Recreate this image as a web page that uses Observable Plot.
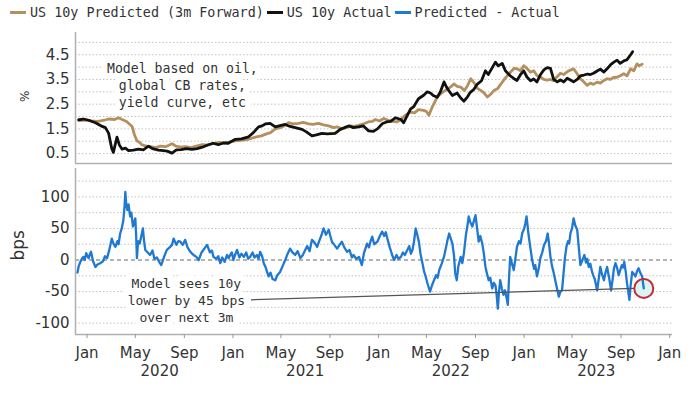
<!DOCTYPE html>
<html><head><meta charset="utf-8">
<script src="https://cdn.jsdelivr.net/npm/d3@7"></script>
<script src="https://cdn.jsdelivr.net/npm/@observablehq/plot@0.6"></script>
<style>
body{margin:0;background:#fff;width:700px;height:394px;overflow:hidden}
#legend{height:25px;display:flex;align-items:center;padding-left:10px;font-family:"DejaVu Sans Mono";font-size:13.4px;color:#333;white-space:pre}
.sw{display:inline-block;width:16px;height:3px;margin-right:4px}
.item{display:flex;align-items:center;margin-right:3px}
svg{display:block}
</style></head><body>
<div id="legend"></div>
<div id="chart"></div>
<script>
// ---------- data ----------
const legendLabels = ["US 10y Predicted (3m Forward)", "US 10y Actual", "Predicted - Actual"];
const legendColors = ["#b5905f", "#111111", "#1f78d1"];

const predictedSeries = [["2019-12-11",1.84],["2019-12-28",1.86],["2020-01-11",1.82],["2020-01-29",1.80],["2020-02-13",1.85],["2020-02-24",1.90],["2020-03-10",1.88],["2020-03-20",1.95],["2020-03-29",1.88],["2020-04-09",1.80],["2020-04-23",1.60],["2020-04-29",1.25],["2020-05-05",1.02],["2020-05-12",0.95],["2020-05-18",0.85],["2020-05-29",0.80],["2020-06-08",0.78],["2020-06-21",0.74],["2020-07-03",0.80],["2020-07-16",0.78],["2020-08-01",0.90],["2020-08-11",0.80],["2020-08-23",0.76],["2020-09-04",0.78],["2020-09-17",0.74],["2020-10-01",0.80],["2020-10-16",0.86],["2020-10-29",0.84],["2020-11-11",0.90],["2020-11-27",0.95],["2020-12-11",0.93],["2020-12-26",0.98],["2021-01-07",1.02],["2021-01-25",1.05],["2021-02-09",1.08],["2021-02-26",1.17],["2021-03-13",1.22],["2021-03-26",1.30],["2021-04-05",1.35],["2021-04-17",1.50],["2021-04-29",1.55],["2021-05-09",1.62],["2021-05-20",1.75],["2021-06-01",1.70],["2021-06-14",1.72],["2021-06-26",1.76],["2021-07-10",1.70],["2021-07-21",1.68],["2021-08-03",1.72],["2021-08-16",1.66],["2021-08-29",1.62],["2021-09-10",1.55],["2021-09-20",1.58],["2021-10-01",1.50],["2021-10-12",1.55],["2021-10-22",1.62],["2021-11-01",1.60],["2021-11-12",1.64],["2021-11-24",1.70],["2021-12-06",1.78],["2021-12-16",1.80],["2021-12-24",1.88],["2022-01-03",1.82],["2022-01-14",1.92],["2022-01-25",1.85],["2022-02-04",1.80],["2022-02-16",1.78],["2022-02-27",1.90],["2022-03-09",2.05],["2022-03-22",2.18],["2022-04-01",2.15],["2022-04-11",2.28],["2022-04-24",2.25],["2022-05-01",2.20],["2022-05-07",2.05],["2022-05-16",2.40],["2022-05-28",2.79],["2022-06-08",2.95],["2022-06-23",3.12],["2022-07-01",3.20],["2022-07-09",3.32],["2022-07-17",3.22],["2022-07-26",3.19],["2022-08-04",3.05],["2022-08-12",3.25],["2022-08-20",3.53],["2022-08-29",3.35],["2022-09-05",3.15],["2022-09-14",3.06],["2022-09-23",2.95],["2022-10-01",2.79],["2022-10-09",2.90],["2022-10-17",3.05],["2022-10-26",3.12],["2022-11-03",3.30],["2022-11-12",3.50],["2022-11-20",3.66],["2022-11-28",3.80],["2022-12-07",3.95],["2022-12-15",3.93],["2022-12-23",3.85],["2022-12-31",4.06],["2023-01-08",3.95],["2023-01-17",3.79],["2023-01-25",3.85],["2023-02-02",3.66],["2023-02-11",3.60],["2023-02-19",3.50],["2023-02-28",3.47],["2023-03-08",3.50],["2023-03-16",3.45],["2023-03-24",3.60],["2023-04-02",3.75],["2023-04-10",3.70],["2023-04-18",3.80],["2023-04-27",3.88],["2023-05-05",3.93],["2023-05-13",3.75],["2023-05-22",3.53],["2023-05-31",3.40],["2023-06-08",3.26],["2023-06-16",3.35],["2023-06-24",3.30],["2023-07-03",3.39],["2023-07-11",3.35],["2023-07-19",3.45],["2023-07-28",3.53],["2023-08-05",3.50],["2023-08-13",3.58],["2023-08-22",3.59],["2023-08-30",3.65],["2023-09-08",3.73],["2023-09-16",3.65],["2023-09-25",3.93],["2023-10-03",3.85],["2023-10-11",4.13],["2023-10-17",4.05],["2023-10-24",4.12]];

const actualSeries = [["2019-12-11",1.87],["2019-12-23",1.90],["2020-01-05",1.85],["2020-01-22",1.75],["2020-02-08",1.60],["2020-02-16",1.55],["2020-02-24",1.33],["2020-03-03",0.70],["2020-03-07",0.55],["2020-03-16",1.17],["2020-03-22",0.85],["2020-03-29",0.68],["2020-04-06",0.72],["2020-04-14",0.62],["2020-04-26",0.64],["2020-05-09",0.68],["2020-05-21",0.65],["2020-06-03",0.80],["2020-06-13",0.70],["2020-06-28",0.64],["2020-07-10",0.62],["2020-07-20",0.60],["2020-08-01",0.52],["2020-08-12",0.65],["2020-08-24",0.66],["2020-09-06",0.70],["2020-09-20",0.67],["2020-10-03",0.70],["2020-10-16",0.76],["2020-10-31",0.86],["2020-11-12",0.92],["2020-11-25",0.86],["2020-12-08",0.93],["2020-12-20",0.92],["2021-01-07",1.08],["2021-01-22",1.10],["2021-02-09",1.18],["2021-02-21",1.35],["2021-03-06",1.58],["2021-03-15",1.62],["2021-03-23",1.70],["2021-04-04",1.72],["2021-04-17",1.58],["2021-04-29",1.63],["2021-05-12",1.68],["2021-05-24",1.60],["2021-06-06",1.55],["2021-06-23",1.48],["2021-07-04",1.38],["2021-07-18",1.22],["2021-07-29",1.26],["2021-08-12",1.32],["2021-08-25",1.30],["2021-09-14",1.32],["2021-09-27",1.48],["2021-10-07",1.55],["2021-10-18",1.62],["2021-10-30",1.55],["2021-11-12",1.58],["2021-11-24",1.62],["2021-12-07",1.42],["2021-12-19",1.40],["2021-12-29",1.50],["2022-01-11",1.72],["2022-01-21",1.78],["2022-01-31",1.80],["2022-02-12",1.95],["2022-02-26",1.88],["2022-03-05",1.75],["2022-03-14",2.05],["2022-03-22",2.30],["2022-03-30",2.40],["2022-04-11",2.72],["2022-04-24",2.86],["2022-05-03",3.00],["2022-05-11",2.95],["2022-05-18",2.85],["2022-05-28",2.78],["2022-06-05",3.00],["2022-06-14",3.40],["2022-06-20",3.20],["2022-06-26",3.05],["2022-07-05",2.85],["2022-07-17",2.95],["2022-07-26",2.75],["2022-08-03",2.62],["2022-08-12",2.80],["2022-08-19",2.98],["2022-08-28",3.10],["2022-09-05",3.30],["2022-09-16",3.45],["2022-09-26",3.85],["2022-10-03",3.70],["2022-10-12",3.95],["2022-10-21",4.20],["2022-10-28",4.05],["2022-11-07",4.15],["2022-11-15",3.85],["2022-11-27",3.65],["2022-12-05",3.55],["2022-12-14",3.46],["2022-12-23",3.70],["2022-12-31",3.85],["2023-01-08",3.60],["2023-01-17",3.45],["2023-01-25",3.52],["2023-02-02",3.40],["2023-02-11",3.70],["2023-02-20",3.90],["2023-02-28",3.98],["2023-03-08",3.95],["2023-03-16",3.50],["2023-03-25",3.40],["2023-04-02",3.48],["2023-04-10",3.40],["2023-04-19",3.55],["2023-04-27",3.48],["2023-05-05",3.40],["2023-05-14",3.50],["2023-05-22",3.65],["2023-05-31",3.68],["2023-06-09",3.72],["2023-06-16",3.70],["2023-06-24",3.75],["2023-07-04",3.85],["2023-07-11",3.92],["2023-07-20",3.80],["2023-07-29",3.95],["2023-08-06",4.10],["2023-08-14",4.20],["2023-08-22",4.28],["2023-08-30",4.15],["2023-09-08",4.25],["2023-09-16",4.30],["2023-09-25",4.50],["2023-09-30",4.62]];

const diffSeries = [["2019-12-08",-20],["2019-12-11",-10],["2019-12-15",-3],["2019-12-19",2],["2019-12-23",5],["2019-12-26",0],["2019-12-30",11],["2020-01-02",6],["2020-01-05",3],["2020-01-08",9],["2020-01-11",13],["2020-01-16",-2],["2020-01-22",-11],["2020-01-27",-7],["2020-02-03",-5],["2020-02-10",-2],["2020-02-15",6],["2020-02-20",3],["2020-02-25",14],["2020-03-03",34],["2020-03-07",26],["2020-03-12",21],["2020-03-17",30],["2020-03-20",25],["2020-03-24",42],["2020-03-28",50],["2020-04-01",63],["2020-04-04",85],["2020-04-06",108],["2020-04-08",90],["2020-04-11",79],["2020-04-14",88],["2020-04-18",69],["2020-04-21",75],["2020-04-25",53],["2020-04-28",60],["2020-05-01",66],["2020-05-03",40],["2020-05-05",3],["2020-05-08",30],["2020-05-12",26],["2020-05-16",38],["2020-05-20",50],["2020-05-23",30],["2020-05-26",16],["2020-06-01",12],["2020-06-07",8],["2020-06-13",15],["2020-06-18",2],["2020-06-24",4],["2020-06-29",-2],["2020-07-05",-8],["2020-07-12",5],["2020-07-19",16],["2020-07-26",20],["2020-08-01",24],["2020-08-05",34],["2020-08-12",24],["2020-08-17",30],["2020-08-22",29],["2020-08-28",24],["2020-09-03",32],["2020-09-09",20],["2020-09-16",13],["2020-09-24",8],["2020-10-01",5],["2020-10-07",0],["2020-10-14",12],["2020-10-21",18],["2020-10-28",24],["2020-11-04",12],["2020-11-09",15],["2020-11-13",5],["2020-11-20",2],["2020-11-25",6],["2020-11-30",-5],["2020-12-05",4],["2020-12-11",-3],["2020-12-17",8],["2020-12-21",3],["2020-12-25",8],["2020-12-29",12],["2021-01-02",0],["2021-01-06",8],["2021-01-11",16],["2021-01-17",4],["2021-01-22",10],["2021-01-28",5],["2021-02-03",12],["2021-02-08",2],["2021-02-13",5],["2021-02-19",12],["2021-02-24",4],["2021-03-02",8],["2021-03-06",2],["2021-03-10",13],["2021-03-15",6],["2021-03-19",-5],["2021-03-24",-12],["2021-03-31",-26],["2021-04-05",-20],["2021-04-10",-30],["2021-04-17",-32],["2021-04-22",-24],["2021-04-29",-19],["2021-05-05",-10],["2021-05-12",0],["2021-05-18",10],["2021-05-24",18],["2021-05-30",12],["2021-06-06",8],["2021-06-12",14],["2021-06-19",3],["2021-06-25",8],["2021-07-01",16],["2021-07-06",22],["2021-07-12",14],["2021-07-18",32],["2021-07-24",28],["2021-07-31",21],["2021-08-05",30],["2021-08-10",38],["2021-08-16",50],["2021-08-22",40],["2021-08-29",48],["2021-09-02",38],["2021-09-06",29],["2021-09-12",24],["2021-09-19",18],["2021-09-25",24],["2021-10-01",29],["2021-10-07",20],["2021-10-14",13],["2021-10-20",16],["2021-10-26",4],["2021-10-30",8],["2021-11-06",2],["2021-11-13",5],["2021-11-20",-8],["2021-11-25",10],["2021-12-03",26],["2021-12-08",20],["2021-12-12",30],["2021-12-16",37],["2021-12-21",25],["2021-12-29",29],["2022-01-04",38],["2022-01-10",45],["2022-01-15",38],["2022-01-19",44],["2022-01-23",34],["2022-01-29",20],["2022-02-04",8],["2022-02-09",0],["2022-02-15",8],["2022-02-20",2],["2022-02-26",5],["2022-03-03",12],["2022-03-08",8],["2022-03-14",16],["2022-03-19",22],["2022-03-23",10],["2022-03-27",16],["2022-03-31",30],["2022-04-04",50],["2022-04-08",40],["2022-04-12",29],["2022-04-16",10],["2022-04-21",-5],["2022-04-25",-18],["2022-04-29",-26],["2022-05-04",-38],["2022-05-10",-50],["2022-05-15",-40],["2022-05-20",-32],["2022-05-25",-24],["2022-05-29",-28],["2022-06-02",-16],["2022-06-08",-6],["2022-06-14",5],["2022-06-19",20],["2022-06-23",32],["2022-06-27",42],["2022-07-01",34],["2022-07-05",26],["2022-07-09",8],["2022-07-12",-20],["2022-07-16",-32],["2022-07-20",-10],["2022-07-26",5],["2022-07-30",-5],["2022-08-03",11],["2022-08-08",40],["2022-08-12",55],["2022-08-15",69],["2022-08-19",60],["2022-08-24",53],["2022-08-28",62],["2022-09-01",71],["2022-09-05",50],["2022-09-09",29],["2022-09-13",38],["2022-09-18",26],["2022-09-22",10],["2022-09-26",-11],["2022-09-30",-22],["2022-10-04",-32],["2022-10-08",-28],["2022-10-13",-45],["2022-10-17",-36],["2022-10-21",-40],["2022-10-24",-55],["2022-10-27",-77],["2022-10-30",-50],["2022-11-02",-32],["2022-11-06",-45],["2022-11-10",-55],["2022-11-14",-48],["2022-11-18",-60],["2022-11-21",-71],["2022-11-24",-30],["2022-11-27",5],["2022-12-01",-5],["2022-12-06",-16],["2022-12-10",2],["2022-12-14",21],["2022-12-19",30],["2022-12-23",26],["2022-12-27",42],["2023-01-01",50],["2023-01-04",58],["2023-01-07",69],["2023-01-10",52],["2023-01-12",40],["2023-01-16",22],["2023-01-21",0],["2023-01-26",-14],["2023-01-29",-8],["2023-02-02",-26],["2023-02-07",-12],["2023-02-11",4],["2023-02-15",11],["2023-02-20",24],["2023-02-25",30],["2023-03-01",42],["2023-03-04",28],["2023-03-08",5],["2023-03-12",-10],["2023-03-16",-20],["2023-03-20",-32],["2023-03-24",-44],["2023-03-29",-58],["2023-04-02",-50],["2023-04-06",-48],["2023-04-10",-20],["2023-04-13",2],["2023-04-17",21],["2023-04-21",30],["2023-04-24",26],["2023-04-27",42],["2023-05-01",50],["2023-05-05",66],["2023-05-09",55],["2023-05-14",48],["2023-05-18",20],["2023-05-22",-8],["2023-05-26",-2],["2023-06-01",8],["2023-06-05",-4],["2023-06-08",2],["2023-06-12",-11],["2023-06-16",-6],["2023-06-20",-18],["2023-06-23",-24],["2023-06-27",-30],["2023-07-03",-48],["2023-07-07",-30],["2023-07-11",-11],["2023-07-15",-22],["2023-07-20",-32],["2023-07-24",-20],["2023-07-28",-11],["2023-08-02",-28],["2023-08-07",-48],["2023-08-11",-30],["2023-08-14",-14],["2023-08-18",-5],["2023-08-22",-12],["2023-08-26",-24],["2023-08-30",-16],["2023-09-03",-8],["2023-09-06",-12],["2023-09-09",-3],["2023-09-13",-20],["2023-09-16",-37],["2023-09-19",-50],["2023-09-22",-63],["2023-09-25",-40],["2023-09-29",-19],["2023-10-03",-22],["2023-10-07",-26],["2023-10-11",-18],["2023-10-15",-13],["2023-10-19",-20],["2023-10-24",-26],["2023-10-26",-36],["2023-10-28",-45]];

const xDomainDates = ["2019-12-03", "2024-01-08"];
const monthTicks = ["2020-01-01","2020-05-01","2020-09-01","2021-01-01","2021-05-01","2021-09-01","2022-01-01","2022-05-01","2022-09-01","2023-01-01","2023-05-01","2023-09-01","2024-01-01"];
const yearLabelDates = ["2020-07-01","2021-07-01","2022-07-01","2023-07-01"];

const topDomain = [0.1, 5.4];
const topTicks = [0.5, 1.5, 2.5, 3.5, 4.5];
const topGrid = [0.5, 1, 1.5, 2, 2.5, 3, 3.5, 4, 4.5, 5];
const botDomain = [-118, 145];
const botTicks = [-100, -50, 0, 50, 100];
const botGrid = [-100, -75, -50, -25, 25, 50, 75, 100, 125];

const topNote = {date: "2020-08-27", value: 3.3, text: "Model based on oil,\nglobal CB rates,\nyield curve, etc"};
const botNote = {date: "2020-09-06", value: -63, text: "Model sees 10y\nlower by 45 bps\nover next 3m"};
const pointer = {date1: "2021-02-15", value1: -63, date2: "2023-10-04", value2: -45};
const marker = {date: "2023-10-28", value: -45};

// ---------- build ----------
const parse = d3.utcParse("%Y-%m-%d");
const toRows = s => s.map(([d, v]) => ({date: parse(d), value: v}));
const predicted = toRows(predictedSeries);
const actual = toRows(actualSeries);
const diff = toRows(diffSeries);
const xDomain = xDomainDates.map(parse);

const legend = d3.select("#legend");
legendLabels.forEach((l, i) => {
  const it = legend.append("div").attr("class", "item");
  it.append("span").attr("class", "sw").style("background", legendColors[i]);
  it.append("span").text(l);
});

const mono = "DejaVu Sans Mono";
const gridStyle = {stroke: "#c2c2c2", strokeOpacity: 1, strokeDasharray: "1.5,2"};
const axisLine = {stroke: "#b0b0b0", strokeWidth: 1.5};

const topPlot = Plot.plot({
  width: 700, height: 142, marginTop: 7, marginBottom: 4, marginLeft: 75, marginRight: 28,
  style: {fontFamily: "DejaVu Sans", fontSize: "15px", color: "#333", background: "transparent"},
  x: {type: "utc", domain: xDomain, axis: null},
  y: {domain: topDomain},
  marks: [
    Plot.gridY(topGrid, gridStyle),
    Plot.ruleY([topDomain[0]], axisLine),
    Plot.ruleX([xDomain[0]], axisLine),
    Plot.axisY(topTicks, {tickSize: 0, tickPadding: 6, tickFormat: d3.format(".1f"), label: null}),
    Plot.text([topNote], {x: d => parse(d.date), y: "value", text: "text", fontFamily: mono, fontSize: 13.2,
      lineHeight: 1.29, fill: "#333", stroke: "white", strokeWidth: 12, paintOrder: "stroke"}),
    Plot.line(predicted, {x: "date", y: "value", stroke: legendColors[0], strokeWidth: 2.8}),
    Plot.line(actual, {x: "date", y: "value", stroke: legendColors[1], strokeWidth: 2.8}),
    Plot.text(["%"], {frameAnchor: "left", dx: -50, dy: 4, rotate: -90, text: d => d, fontSize: 12, fill: "#333"})
  ]
});

const botPlot = Plot.plot({
  width: 700, height: 227, marginTop: 1, marginBottom: 60, marginLeft: 75, marginRight: 28,
  style: {fontFamily: "DejaVu Sans", fontSize: "15px", color: "#333", background: "transparent"},
  x: {type: "utc", domain: xDomain},
  y: {domain: botDomain},
  marks: [
    Plot.gridY(botGrid, gridStyle),
    Plot.ruleY([0], {stroke: "#9a9a9a", strokeDasharray: "4,3", strokeWidth: 1.3}),
    Plot.ruleY([botDomain[0]], axisLine),
    Plot.ruleX([xDomain[0]], axisLine),
    Plot.axisY(botTicks, {tickSize: 0, tickPadding: 6, tickFormat: d => String(d), label: null}),
    Plot.axisX(monthTicks.map(parse), {tickSize: 4, tickPadding: 9, tickFormat: d3.utcFormat("%b"), label: null, stroke: "#999"}),
    Plot.text(yearLabelDates.map(parse), {x: d => d, frameAnchor: "bottom", dy: 41, text: d3.utcFormat("%Y")}),
    Plot.text([botNote], {x: d => parse(d.date), y: "value", text: "text", fontFamily: mono, fontSize: 13,
      lineHeight: 1.28, fill: "#333", stroke: "white", strokeWidth: 12, paintOrder: "stroke"}),
    Plot.dot([marker], {x: d => parse(d.date), y: "value", r: 9.5, fill: "#dcf4f2", stroke: "none"}),
    Plot.line(diff, {x: "date", y: "value", stroke: legendColors[2], strokeWidth: 2.3}),
    Plot.link([pointer], {x1: d => parse(d.date1), y1: "value1", x2: d => parse(d.date2), y2: "value2", stroke: "#555", strokeWidth: 1.3}),
    Plot.dot([marker], {x: d => parse(d.date), y: "value", r: 9.5, fill: "none", stroke: "#c42a35", strokeWidth: 2}),
    Plot.text(["bps"], {frameAnchor: "left", dx: -57, dy: 9, rotate: -90, text: d => d, fontSize: 17, fill: "#333"})
  ]
});

document.getElementById("chart").append(topPlot, botPlot);
</script>
</body></html>
